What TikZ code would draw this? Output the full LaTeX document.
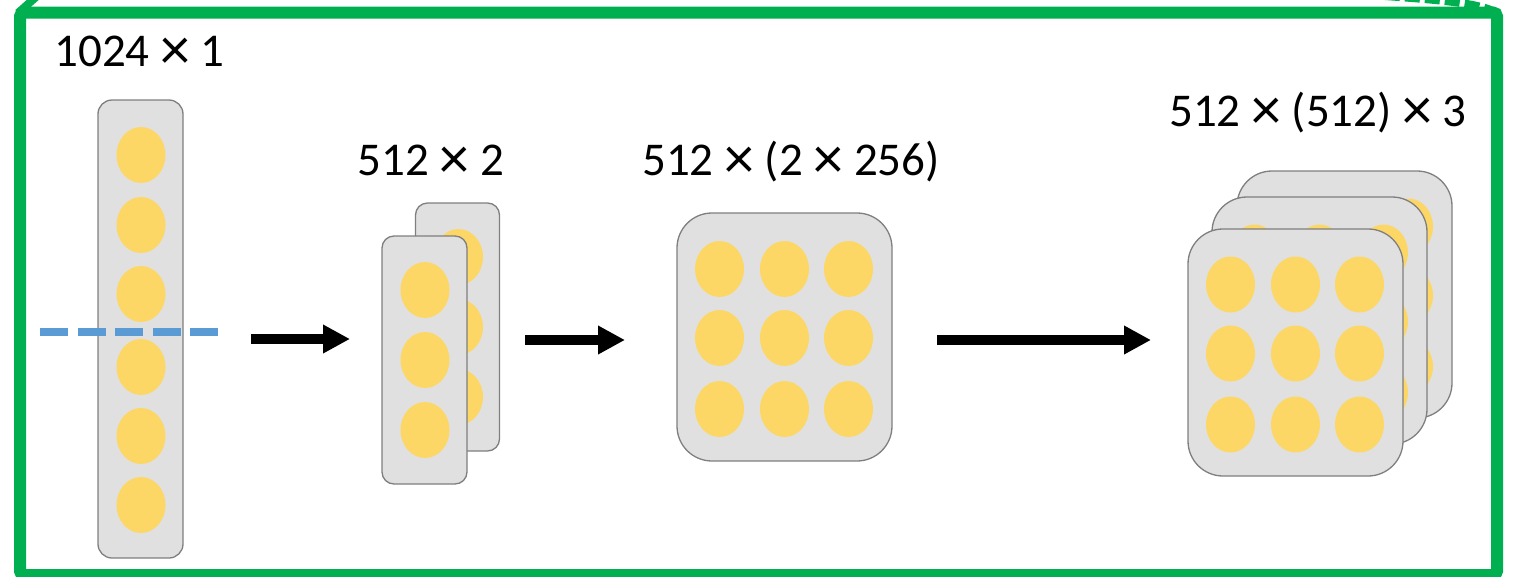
\documentclass[tikz,border=0pt]{standalone}
\usepackage{fontspec}
\setmainfont{Carlito}
\usetikzlibrary{arrows.meta,shapes.geometric}
\definecolor{frameG}{HTML}{00B050}
\definecolor{dashB}{HTML}{5B9BD5}
\definecolor{plateF}{HTML}{E0E0E0}
\definecolor{plateB}{HTML}{7F7F7F}
\definecolor{dotY}{HTML}{FDD766}
\newcommand\mytimes{\raisebox{-3.5pt}{\fontsize{60}{60}\selectfont ×}}
\begin{document}
\begin{tikzpicture}[x=1pt,y=-1pt,
  plate/.style={draw=plateB, fill=plateF, line width=1.3pt, rounded corners=#1, inner sep=0pt, outer sep=0pt},
  dot/.style={ellipse, fill=dotY, draw=none, minimum width=49pt, minimum height=56pt, inner sep=0pt},
  lbl/.style={anchor=base, inner sep=0pt, font=\fontsize{47}{56}\selectfont},
  arr/.style={line width=10pt, -{Triangle[length=27pt,width=27pt]}},
  cutline/.style={dashB, line width=7.5pt, dash pattern=on 28pt off 9.5pt},
  frm/.style={draw=frameG, line width=12pt, rounded corners=4pt, inner sep=0pt, outer sep=0pt}]
\useasboundingbox (0,0) rectangle (1519,576);
\clip (0,0) rectangle (1519,576);
% frame
\node[frm, minimum width=1477pt, minimum height=562.5pt] (frame) at (758.5,293.75) {};
\coordinate (tl1) at (18,13);
\coordinate (tl2) at (36,-3);
\draw[frameG, line width=8pt] (tl1) -- (tl2);
\coordinate (tr1) at (1385,-4);
\coordinate (tr2) at (1497,13);
\draw[frameG, line width=8pt, dash pattern=on 15pt off 5pt] (tr1) .. controls (1440,0) and (1480,3) .. (tr2);
% column 1
\node[plate=14pt, minimum width=85pt, minimum height=458pt] (c1) at (140.5,329) {};
\foreach \y [count=\i] in {155,225,294,367,436,505}
  \node[dot] (c1d\i) at (141,\y) {};
\coordinate (dl) at (40,332);
\coordinate (dr) at (218,332);
\draw[cutline] (dl) -- (dr);
\node[lbl] (t1) at (139.5,66) {1024 \mytimes{} 1};
% column 2
\node[plate=12pt, minimum width=84pt, minimum height=248pt] (c2b) at (457.5,327) {};
\foreach \y [count=\i] in {257,327,397}
  \node[dot] (c2bd\i) at (458.5,\y) {};
\node[plate=12pt, minimum width=85pt, minimum height=248pt] (c2f) at (424.5,360) {};
\foreach \y [count=\i] in {290,360,430}
  \node[dot] (c2fd\i) at (425,\y) {};
\node[lbl] (t2) at (431,175) {512 \mytimes{} 2};
% column 3
\node[plate=35pt, minimum width=215pt, minimum height=248pt] (c3) at (784.5,337) {};
\foreach \dx [count=\i] in {-65,0,64}
  \foreach \dy [count=\j] in {-68,1,72}
    \node[dot] (c3d\i\j) at ([shift={(\dx,\dy)}]c3.center) {};
\node[lbl] (t3) at (791,175) {512 \mytimes{} (2 \mytimes{} 256)};
% column 4
\foreach \cx/\cy/\nm in {1344.5/294.5/c4a, 1319.5/320.5/c4b, 1295.5/352.5/c4c}{
  \node[plate=35pt, minimum width=215pt, minimum height=247pt] (\nm) at (\cx,\cy) {};
  \foreach \dx [count=\i] in {-65,0,64}
    \foreach \dy [count=\j] in {-68,1,72}
      \node[dot] (\nm d\i\j) at ([shift={(\dx,\dy)}]\nm.center) {};
}
\node[lbl] (t4) at (1318,126) {512 \mytimes{} (512) \mytimes{} 3};
% arrows
\coordinate (a1s) at (251,339); \coordinate (a1e) at (350,339);
\coordinate (a2s) at (525,340); \coordinate (a2e) at (625,340);
\coordinate (a3s) at (937,340); \coordinate (a3e) at (1151,340);
\draw[arr] (a1s) -- (a1e);
\draw[arr] (a2s) -- (a2e);
\draw[arr] (a3s) -- (a3e);
\end{tikzpicture}
\end{document}
